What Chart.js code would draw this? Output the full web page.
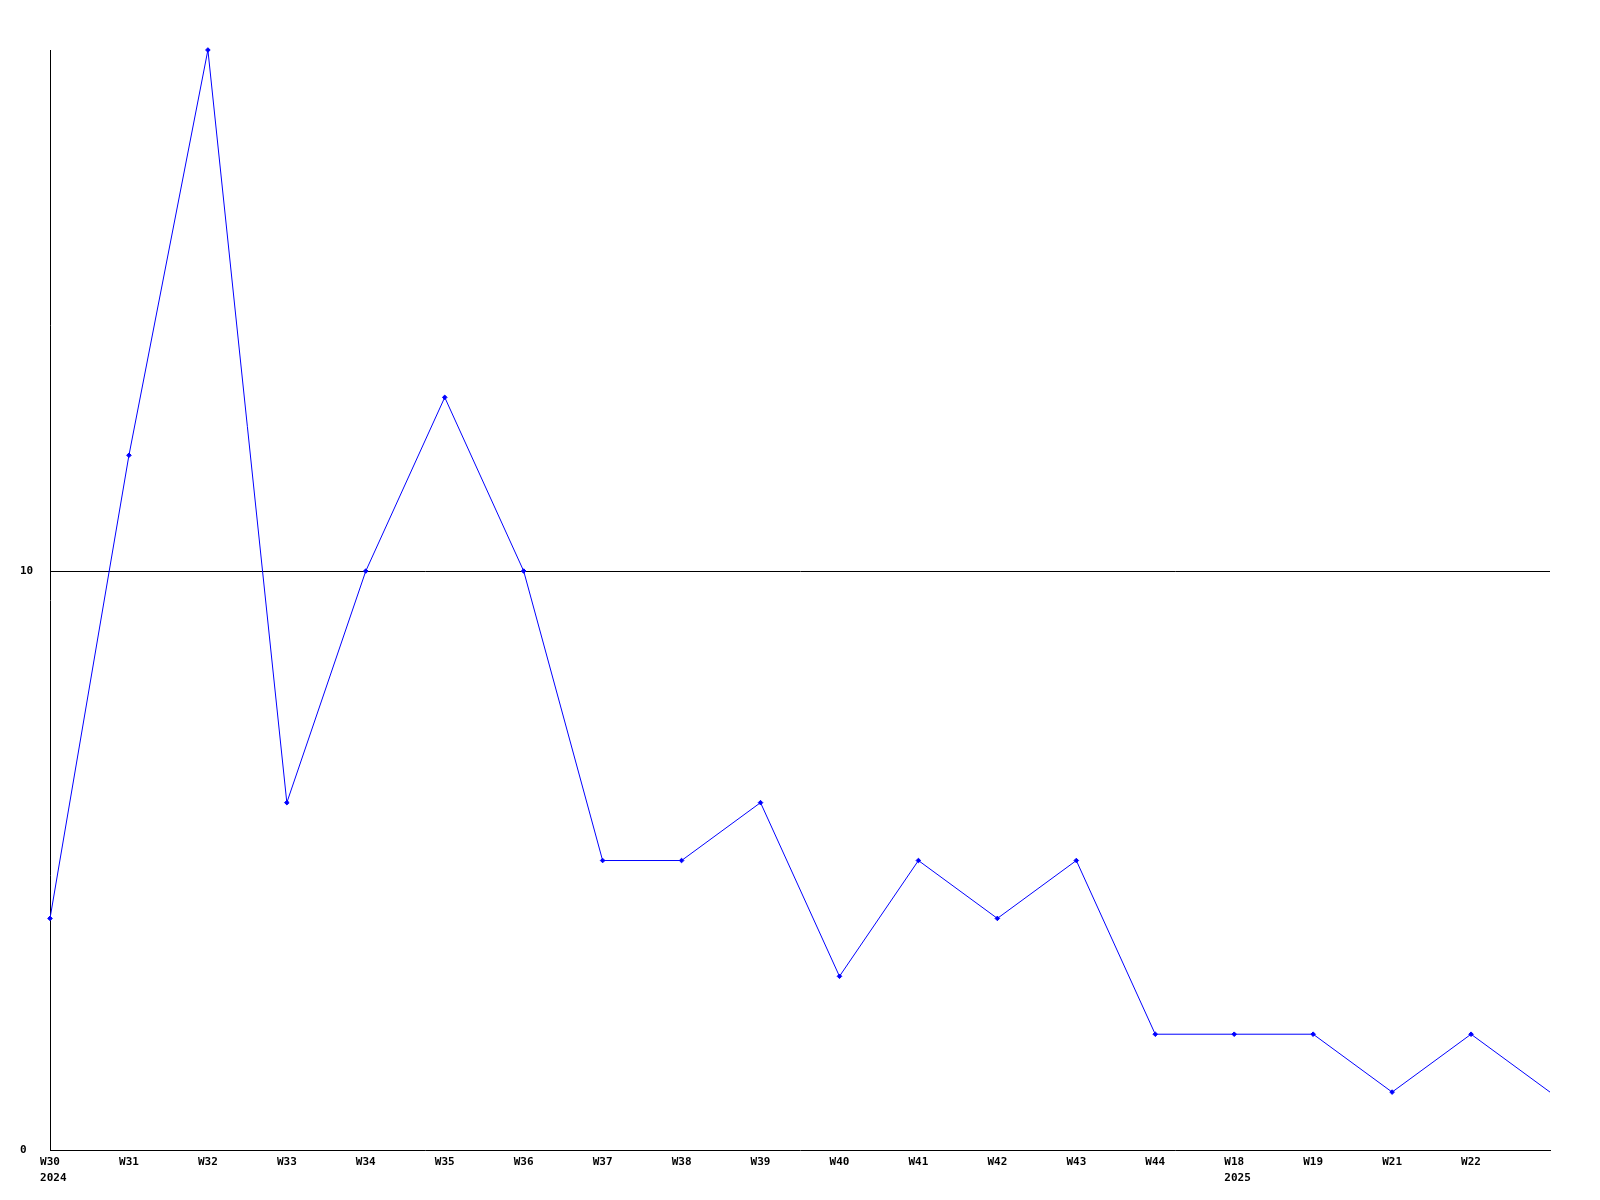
<!DOCTYPE html>
<html>
<head>
<meta charset="utf-8">
<script src="https://cdn.jsdelivr.net/npm/chart.js@4/dist/chart.umd.min.js"></script>
<style>
  html, body { margin: 0; padding: 0; background: #ffffff; }
  #wrap { width: 1600px; height: 1200px; }
</style>
</head>
<body>
<div id="wrap"><canvas id="c" width="1600" height="1200"></canvas></div>
<script>
const weekLabels = ["W30","W31","W32","W33","W34","W35","W36","W37","W38","W39","W40","W41","W42","W43","W44","W18","W19","W21","W22",""];
const yearLabels = {0: "2024", 15: "2025"};
const values = [4,12,19,6,10,13,10,5,5,6,3,5,4,5,2,2,2,1,2,1];
const yTicks = [0, 10];
const yMax = 19;

const lastIdx = values.length - 1;
const tickFont = { family: "'DejaVu Sans Mono', monospace", size: 11, weight: 'bold' };
const fontStr = "bold 11px 'DejaVu Sans Mono', monospace";

// Draws the year line under its week label, left-aligned with that label
const yearPlugin = {
  id: 'yearLine',
  afterDraw(chart) {
    const ctx = chart.ctx;
    const xs = chart.scales.x;
    ctx.save();
    ctx.font = fontStr;
    ctx.fillStyle = '#000000';
    ctx.textAlign = 'left';
    ctx.textBaseline = 'middle';
    Object.keys(yearLabels).forEach(k => {
      const i = Number(k);
      const px = xs.getPixelForTick(i);
      const w = ctx.measureText(weekLabels[i]).width;
      ctx.fillText(yearLabels[k], px - w / 2, xs.top + 6 + 22);
    });
    ctx.restore();
  }
};

new Chart(document.getElementById('c'), {
  type: 'line',
  data: {
    labels: weekLabels,
    datasets: [{
      data: values,
      borderColor: '#0000ff',
      backgroundColor: '#0000ff',
      borderWidth: 1,
      pointStyle: 'rectRot',
      pointRadius: ctx => ctx.dataIndex === lastIdx ? 0 : 2.3,
      pointBorderWidth: 1,
      tension: 0,
      fill: false,
      clip: false
    }]
  },
  options: {
    responsive: false,
    animation: false,
    devicePixelRatio: 1,
    layout: { padding: { left: 20, right: 50, top: 50, bottom: 0 } },
    plugins: { legend: { display: false }, tooltip: { enabled: false } },
    scales: {
      x: {
        offset: false,
        grid: { display: false, drawTicks: false },
        border: { display: true, color: '#000000', width: 1 },
        ticks: {
          autoSkip: false, maxRotation: 0, minRotation: 0,
          color: '#000000', font: tickFont, padding: 6
        },
        afterFit: s => { s.height = 50; }
      },
      y: {
        min: 0, max: yMax,
        afterBuildTicks: s => { s.ticks = yTicks.map(v => ({ value: v })); },
        grid: {
          drawTicks: false,
          color: ctx => ctx.tick && ctx.tick.value === 10 ? '#000000' : 'rgba(0,0,0,0)',
          lineWidth: 1
        },
        border: { display: true, color: '#000000', width: 1 },
        ticks: {
          color: '#000000', font: tickFont, crossAlign: 'far', padding: 4
        },
        afterFit: s => { s.width = 30; }
      }
    }
  },
  plugins: [yearPlugin]
});
</script>
</body>
</html>
